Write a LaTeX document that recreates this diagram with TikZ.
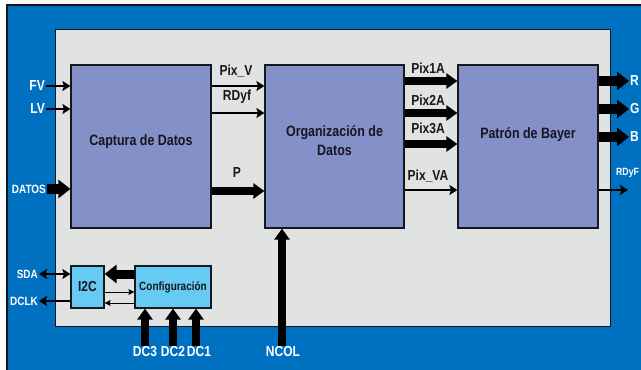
\documentclass[tikz,border=0pt]{standalone}
\usepackage{fontspec}
\setmainfont{Liberation Sans}[FakeStretch=0.83]
\usetikzlibrary{arrows.meta}
\definecolor{bgblue}{HTML}{0070C0}
\definecolor{panel}{HTML}{E1E2E2}
\definecolor{block}{HTML}{8491C9}
\definecolor{cfgblue}{HTML}{66CBF3}
\definecolor{ink}{HTML}{16161E}
\begin{document}
\begin{tikzpicture}[x=1pt,y=-1pt,
  blockbox/.style={draw=ink, line width=1.2pt, fill=block, inner sep=0pt},
  smallbox/.style={draw=ink, line width=1.2pt, fill=cfgblue, inner sep=0pt},
  boxtext/.style={font=\bfseries\fontsize{15}{19.5}\selectfont, text=ink, align=center, inner sep=0pt},
  sig/.style={font=\bfseries\fontsize{14.5}{16}\selectfont, text=ink, inner sep=1pt},
  pin/.style={font=\bfseries\fontsize{14.5}{16}\selectfont, text=white, inner sep=1pt},
  pinsmall/.style={font=\bfseries\fontsize{12}{14}\selectfont, text=white, inner sep=1pt},
  thinarr/.style={line width=1.7pt, -{Stealth[length=8pt,width=10pt,inset=1.5pt]}},
  fineline/.style={line width=0.9pt, -{Stealth[length=6pt,width=6pt,inset=1pt]}},
  busarr/.style={line width=2.6pt, -{Stealth[length=8pt,width=10pt,inset=1.5pt]}},
  thickarr/.style={line width=7.5pt, -{Triangle[length=11pt,width=15pt]}},
  heavyarr/.style={line width=9.5pt, -{Triangle[length=12pt,width=18pt]}}]

\path[use as bounding box] (0,0) rectangle (641,370);
\fill[white] (0,0) rectangle (641,370);

% outer blue field and grey panel
\draw[fill=bgblue, draw=ink, line width=1.2pt] (7,5) rectangle (646,376);
\node[draw=ink, line width=1.2pt, fill=panel, inner sep=0pt, anchor=north west,
      minimum width=555pt, minimum height=297pt] (frame) at (55,29) {};

% main processing blocks
\node[blockbox, minimum width=140pt, minimum height=163pt] (cap) at (141,146.5) {};
\node[blockbox, minimum width=139pt, minimum height=163pt] (org) at (334.5,146.5) {};
\node[blockbox, minimum width=140pt, minimum height=163pt] (bay) at (528,146.5) {};
\node[boxtext] (tcap) at (141,142) {Captura de Datos};
\node[boxtext] (torg) at (334.5,140.5) {Organización de\\Datos};
\node[boxtext] (tbay) at (528,135) {Patrón de Bayer};

% configuration blocks
\node[smallbox, minimum width=33pt, minimum height=42pt, font=\bfseries\fontsize{14.5}{16}\selectfont, text=ink] (i2c) at (87.5,287) {I2C};
\node[smallbox, minimum width=76pt, minimum height=42pt, font=\bfseries\fontsize{12}{14}\selectfont, text=ink] (cfg) at (173,287) {Configuración};

% input pins
\node[pin, anchor=east] (lfv) at (46,86) {FV};
\node[pin, anchor=east] (llv) at (46,109) {LV};
\node[pinsmall, anchor=east] (ldatos) at (47,189) {DATOS};
\draw[thinarr] (lfv.east) -- (cap.west |- lfv.east);
\draw[thinarr] (llv.east) -- (cap.west |- llv.east);
\draw[heavyarr] (ldatos.east) -- (cap.west |- ldatos.east);

% capture -> organisation
\node[sig] (lpixv) at (236,71) {Pix\_V};
\node[sig] (lrdyf) at (237,97) {RDyf};
\node[sig] (lp) at (237,173) {P};
\draw[thinarr] (cap.east |- 0,86) -- (org.west |- 0,86);
\draw[thinarr] (cap.east |- 0,113) -- (org.west |- 0,113);
\draw[thickarr] (cap.east |- 0,191) -- (org.west |- 0,191);

% organisation -> Bayer
\node[sig] (lpix1) at (428,68) {Pix1A};
\node[sig] (lpix2) at (428,100) {Pix2A};
\node[sig] (lpix3) at (428,128) {Pix3A};
\node[sig] (lpixva) at (428,176) {Pix\_VA};
\draw[thickarr] (org.east |- 0,81) -- (bay.west |- 0,81);
\draw[thickarr] (org.east |- 0,113) -- (bay.west |- 0,113);
\draw[thickarr] (org.east |- 0,144) -- (bay.west |- 0,144);
\draw[thinarr] (org.east |- 0,190) -- (bay.west |- 0,190);

% outputs
\node[pin, anchor=west] (lr) at (629,81) {R};
\node[pin, anchor=west] (lg) at (629,109) {G};
\node[pin, anchor=west] (lb) at (629,137) {B};
\node[font=\bfseries\fontsize{10.5}{12}\selectfont, text=white, inner sep=1pt, anchor=west] (lrdyfo) at (615,173) {RDyF};
\coordinate (rdyfend) at (628,190);
\draw[heavyarr] (bay.east |- lr.west) -- (lr.west);
\draw[heavyarr] (bay.east |- lg.west) -- (lg.west);
\draw[heavyarr] (bay.east |- lb.west) -- (lb.west);
\draw[thinarr] (bay.east |- rdyfend) -- (rdyfend);

% serial interface
\node[pinsmall, anchor=east] (lsda) at (39,274) {SDA};
\node[pinsmall, anchor=east] (ldclk) at (39,301) {DCLK};
\draw[busarr, {Stealth[length=8pt,width=10pt,inset=1.5pt]}-{Stealth[length=8pt,width=10pt,inset=1.5pt]}] (lsda.east) -- (i2c.west |- lsda.east);
\draw[busarr] (i2c.west |- ldclk.east) -- (ldclk.east);
\draw[heavyarr, line width=9pt] (cfg.west |- 0,274) -- (i2c.east |- 0,274);
\draw[fineline] (i2c.east |- 0,292) -- (cfg.west |- 0,292);
\draw[fineline] (cfg.west |- 0,303) -- (i2c.east |- 0,303);

% configuration pins
\node[pin] (ldc3) at (145,352) {DC3};
\node[pin] (ldc2) at (173,352) {DC2};
\node[pin] (ldc1) at (199,352) {DC1};
\draw[thickarr] (ldc3.north -| 145,0) -- (cfg.south -| 145,0);
\draw[thickarr] (ldc2.north -| 173,0) -- (cfg.south -| 173,0);
\draw[thickarr] (ldc1.north -| 196,0) -- (cfg.south -| 196,0);

% column count
\node[pin] (lncol) at (283,352) {NCOL};
\draw[thickarr] (lncol.north -| 282,0) -- (org.south -| 282,0);
\end{tikzpicture}
\end{document}
